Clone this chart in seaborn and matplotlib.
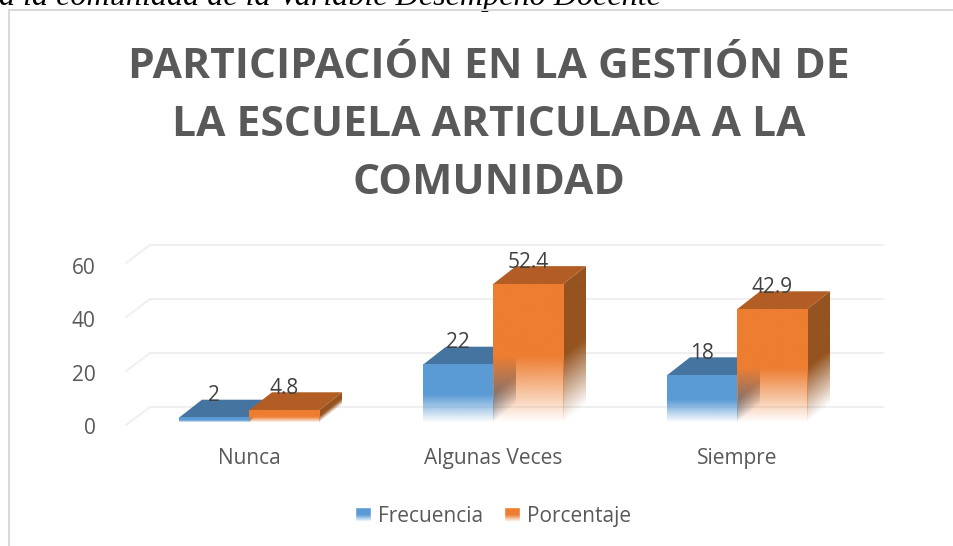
import matplotlib
matplotlib.use("Agg")
import matplotlib.pyplot as plt
from matplotlib.colors import to_rgb
from matplotlib.patches import Patch, Polygon
import numpy as np
import pandas as pd
import seaborn as sns

categorias = ["Nunca", "Algunas Veces", "Siempre"]
frecuencia = [2, 22, 18]
porcentaje = [4.8, 52.4, 42.9]
etiquetas_frecuencia = ["2", "22", "18"]
etiquetas_porcentaje = ["4.8", "52.4", "42.9"]
marcas_y = [0, 20, 40, 60]
titulo = "PARTICIPACIÓN EN LA GESTIÓN DE\nLA ESCUELA ARTICULADA A LA\nCOMUNIDAD"
encabezado = "a la comunidad de la Variable Desempeño Docente"

W, H = 954, 546
azul, naranja = "#5B9BD5", "#ED7D31"
azul_top, naranja_top = "#44749F", "#B15D24"
azul_lado, naranja_lado = "#3F6B93", "#95531F"
gris = "#595959"
rejilla = "#EFEFEF"
dx, dy = 23, 18

sns.set_theme(style="white")
plt.rcParams["font.family"] = ["Open Sans", "DejaVu Sans"]


def axes_px(fig, izq, der, arriba, abajo):
    return fig.add_axes([izq / W, 1 - abajo / H, (der - izq) / W, (abajo - arriba) / H])


fig = plt.figure(figsize=(W / 100, H / 100), dpi=100, facecolor="white")

# pared del fondo con la rejilla
ax_pared = axes_px(fig, 150, 883, 245, 407)
ax_pared.set_ylim(0, 60)
ax_pared.set_yticks(marcas_y)
ax_pared.set_xticks([])
ax_pared.tick_params(left=False, labelleft=False)
ax_pared.grid(axis="y", color=rejilla, lw=1.4)
for s in ax_pared.spines.values():
    s.set_visible(False)
ax_pared.patch.set_alpha(0)
for g in ax_pared.get_ygridlines():
    g.set_clip_on(False)

# eje de las etiquetas de y
ax_y = axes_px(fig, 127, 859, 266, 426)
ax_y.set_ylim(0, 60)
ax_y.set_yticks(marcas_y)
ax_y.set_xticks([])
ax_y.tick_params(axis="y", left=False, pad=16.5, labelsize=15, labelcolor=gris)
for s in ax_y.spines.values():
    s.set_visible(False)
ax_y.patch.set_alpha(0)

# barras
df = pd.DataFrame({
    "categoria": categorias * 2,
    "valor": frecuencia + porcentaje,
    "serie": ["Frecuencia"] * 3 + ["Porcentaje"] * 3,
})
ax = axes_px(fig, 127, 859, 264, 423)
sns.barplot(data=df, x="categoria", y="valor", hue="serie", palette=[azul, naranja],
            width=0.574, gap=0, legend=False, ax=ax)
ax.set_xlim(-0.5, 2.5)
ax.set_ylim(0, 60)
ax.set_xlabel("")
ax.set_ylabel("")
ax.set_yticks([])
ax.tick_params(axis="x", bottom=False, pad=12.2, labelsize=15, labelcolor=gris)
for s in ax.spines.values():
    s.set_visible(False)
ax.patch.set_alpha(0)

# capa en pixeles para las caras 3D
capa = fig.add_axes([0, 0, 1, 1], zorder=10)
capa.patch.set_alpha(0)
capa.axis("off")
capa.set_xlim(0, W)
capa.set_ylim(H, 0)


def a_px(x, y):
    px, py = ax.transData.transform((x, y))
    return px, H - py


def cara_front(x0, x1, yt, yb, color, z):
    n = max(int(yb - yt), 2)
    alfa = np.clip(np.linspace(1, 0, n) / 0.48, 0, 1)
    img = np.zeros((n, 1, 4))
    img[..., :3] = to_rgb(color)
    img[:, 0, 3] = alfa
    capa.imshow(img, extent=(x0, x1, yb, yt), aspect="auto", zorder=z, interpolation="bilinear")


def cara_lado(x1, yt, yb, color, z):
    xs = np.arange(x1, x1 + dx + 1)
    ys = np.arange(yt - dy, yb + 1)
    xx, yy = np.meshgrid(xs, ys)
    t = (yb - (xx - x1) * dy / dx - yy) / (0.48 * (yb - yt))
    img = np.zeros(xx.shape + (4,))
    img[..., :3] = to_rgb(color)
    img[..., 3] = np.clip(t, 0, 1)
    im = capa.imshow(img, extent=(x1, x1 + dx, yb, yt - dy), aspect="auto", zorder=z, interpolation="bilinear")
    pol = Polygon([(x1, yt), (x1 + dx, yt - dy), (x1 + dx, yb - dy), (x1, yb)], transform=capa.transData)
    im.set_clip_path(pol)


estilos = [(azul, azul_top, azul_lado, etiquetas_frecuencia), (naranja, naranja_top, naranja_lado, etiquetas_porcentaje)]
for s, (cont, est) in enumerate(zip(ax.containers, estilos)):
    color, c_top, c_lado, textos = est
    for i, barra in enumerate(cont.patches):
        x0, yt = a_px(barra.get_x(), barra.get_height())
        x1, yb = a_px(barra.get_x() + barra.get_width(), 0)
        barra.set_facecolor("none")
        barra.set_edgecolor("none")
        z = 2 + i * 10 + s * 4
        cara_lado(x1, yt, yb, c_lado, z)
        capa.add_patch(Polygon([(x0, yt), (x0 + dx, yt - dy), (x1 + dx, yt - dy), (x1, yt)],
                               facecolor=c_top, edgecolor="none", zorder=z + 1))
        cara_front(x0, x1, yt, yb, color, z + 2)
        capa.text((x0 + x1) / 2, yt - dy + 1.5, textos[i], ha="center", va="baseline",
                  fontsize=15, color="#404040", zorder=50)

# diagonales de la pared lateral
for m in marcas_y:
    y = 407 - m * 2.7
    capa.plot([126, 150], [y + 18, y], color=rejilla, lw=1.4, zorder=1)

# marco del grafico
capa.plot([9, 9, W + 5], [H + 5, 10, 10], color="#D9D9D9", lw=1.5, zorder=1)

capa.set_xlim(0, W)
capa.set_ylim(H, 0)

fig.text(488.5 / W, 1 - 194.3 / H, titulo, ha="center", va="baseline", fontsize=30.6, fontweight="bold",
         color=gris, linespacing=1.55)
fig.text(-1 / W, 1 - 4.5 / H, encabezado, ha="left", va="baseline", fontsize=23.1, style="italic",
         family="Liberation Serif", color="black")

# leyenda
manijas = [Patch(facecolor=azul, label="Frecuencia"), Patch(facecolor=naranja, label="Porcentaje")]
ley = fig.legend(handles=manijas, loc="center", bbox_to_anchor=(493 / W, 1 - 516.5 / H), ncol=2, frameon=False,
                 fontsize=15, labelcolor=gris, handlelength=0.75, handleheight=0.75, handletextpad=0.35,
                 columnspacing=1.0)
fig.canvas.draw()
for p in ley.get_patches():
    b = p.get_window_extent()
    img = np.ones((20, 1, 4))
    img[:, 0, 3] = np.clip(np.linspace(-1.2, 1, 20), 0, 1)
    capa.imshow(img, extent=(b.x0, b.x1, H - b.y0, H - b.y1), aspect="auto", zorder=60, interpolation="bilinear")
capa.set_xlim(0, W)
capa.set_ylim(H, 0)

fig.savefig("out.png", dpi=100)
